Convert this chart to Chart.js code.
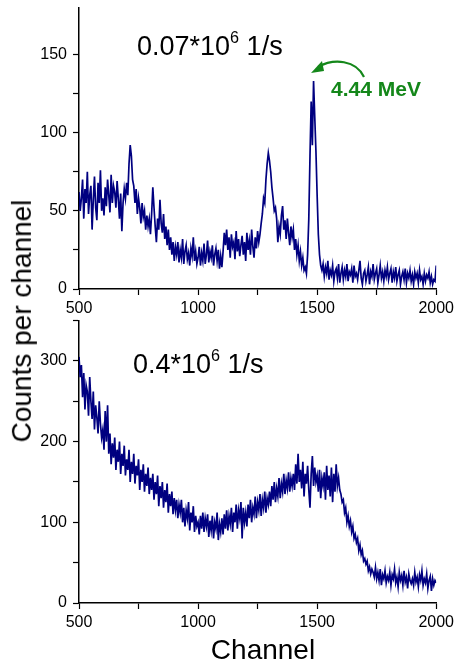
<!DOCTYPE html>
<html>
<head>
<meta charset="utf-8">
<script src="https://cdn.jsdelivr.net/npm/chart.js@4"></script>
<style>
  body { margin: 0; background: #fff; }
  #wrap { position: relative; width: 454px; height: 665px; overflow: hidden; font-family: "Liberation Sans", Arial, sans-serif; }
  canvas { position: absolute; left: 0; }
  .lbl { position: absolute; white-space: nowrap; color: #000; line-height: 1.15; }
  sup { font-size: 60%; vertical-align: 0; position: relative; top: -0.75em; }
</style>
</head>
<body>
<div id="wrap">
  <canvas id="topChart" width="458" height="330" style="top:-8px"></canvas>
  <canvas id="bottomChart" width="458" height="362" style="top:305px"></canvas>
  <div class="lbl" style="left:137px;top:31px;font-size:27px">0.07*10<sup>6</sup> 1/s</div>
  <div class="lbl" style="left:133px;top:349px;font-size:27px">0.4*10<sup>6</sup> 1/s</div>
  <div class="lbl" style="left:331px;top:77px;font-size:21px;font-weight:bold;color:#14871a">4.44 MeV</div>
  <div class="lbl" style="left:22px;top:321px;font-size:28px;transform:translate(-50%,-50%) rotate(-90deg)">Counts per channel</div>
  <div class="lbl" style="left:263px;top:650px;font-size:28px;transform:translate(-50%,-50%)">Channel</div>
  <svg style="position:absolute;left:0;top:0" width="454" height="665">
    <path d="M364,77 C356,60 334,58 318,67" fill="none" stroke="#14871a" stroke-width="2.2"/>
    <path d="M311,73 L322,61 L324,71 Z" fill="#14871a"/>
  </svg>
</div>
<script>
// channels 500..2000, every 5th channel
const channels = [];
for (let c = 500; c <= 2000; c += 5) channels.push(c);

// 0.07*10^6 1/s
const countsLow = [
  62, 50, 58, 70, 45, 64, 55, 75, 48, 60, 66, 38, 57, 72, 52, 44, 68, 55, 76, 50,
  58, 47, 65, 53, 70, 60, 49, 73, 55, 66, 62, 52, 69, 58, 45, 61, 37, 55, 64, 58,
  68, 60, 80, 92, 85, 70, 66, 55, 64, 48, 58, 52, 42, 55, 46, 50, 38, 47, 40, 45,
  35, 48, 65, 52, 40, 30, 45, 38, 57, 42, 36, 48, 32, 40, 28, 38, 25, 33, 22, 30,
  18, 27, 22, 30, 17, 25, 20, 32, 16, 24, 28, 19, 23, 15, 26, 21, 33, 18, 24, 16,
  20, 27, 15, 23, 18, 29, 16, 22, 31, 17, 24, 20, 28, 15, 22, 26, 18, 25, 13, 21,
  14, 24, 36, 28, 38, 25, 33, 20, 35, 27, 30, 19, 37, 24, 32, 21, 28, 34, 22, 30,
  18, 36, 25, 31, 22, 38, 27, 20, 33, 26, 37, 30, 35, 42, 48, 58, 55, 70, 80, 87,
  82, 75, 65, 58, 50, 52, 45, 30, 40, 35, 47, 53, 38, 44, 32, 45, 36, 28, 40, 33,
  38, 25, 32, 22, 28, 18, 24, 15, 20, 12, 14, 10, 22, 45, 85, 120, 92, 133, 110, 88,
  60, 35, 22, 15, 12, 16, 8, 14, 10, 18, 6, 12, 9, 15, 5, 11, 13, 7, 16, 4,
  10, 14, 6, 12, 8, 16, 5, 11, 9, 13, 4, 15, 8, 10, 6, 12, 18, 7, 3, 10,
  12, 5, 9, 14, 3, 11, 8, 16, 6, 10, 13, 4, 9, 15, 7, 11, 5, 12, 8, 14,
  6, 10, 13, 4, 11, 7, 14, 5, 9, 12, 3, 8, 11, 6, 13, 4, 10, 7, 12, 5,
  9, 3, 11, 7, 10, 4, 12, 6, 8, 3, 10, 5, 9, 7, 11, 4, 8, 3, 6, 5,
  15
];

// 0.4*10^6 1/s
const countsHigh = [
  305, 280, 295, 255, 285, 240, 270, 262, 232, 280, 250, 228, 262, 215, 245, 230, 210, 250, 222, 205,
  215, 190, 238, 200, 245, 185, 210, 172, 198, 180, 205, 165, 190, 175, 200, 160, 185, 170, 195, 158,
  178, 165, 190, 150, 175, 160, 185, 148, 170, 158, 178, 140, 165, 150, 172, 138, 160, 145, 168, 135,
  155, 140, 160, 128, 150, 135, 158, 120, 145, 130, 150, 118, 140, 125, 148, 112, 135, 120, 138, 110,
  130, 115, 128, 105, 122, 112, 128, 100, 118, 95, 115, 105, 125, 90, 112, 100, 120, 88, 108, 95,
  100, 85, 108, 92, 112, 88, 105, 95, 110, 82, 102, 90, 108, 80, 100, 92, 112, 78, 98, 88,
  105, 85, 110, 92, 115, 90, 108, 98, 118, 88, 112, 100, 122, 92, 115, 105, 125, 80, 118, 100,
  112, 95, 122, 105, 128, 100, 118, 110, 132, 105, 125, 115, 135, 108, 128, 118, 138, 112, 130, 122,
  138, 120, 145, 128, 150, 125, 142, 132, 155, 130, 148, 138, 160, 135, 152, 142, 162, 138, 155, 145,
  160, 140, 172, 148, 185, 150, 165, 142, 175, 132, 160, 148, 170, 140, 118, 160, 182, 145, 168, 150,
  158, 138, 165, 130, 155, 145, 162, 128, 170, 140, 158, 132, 168, 125, 160, 138, 172, 145, 155, 140,
  135, 125, 128, 112, 118, 100, 108, 95, 102, 88, 95, 80, 85, 75, 80, 65, 72, 60, 65, 52,
  55, 48, 52, 40, 45, 36, 42, 38, 32, 44, 30, 38, 28, 42, 22, 35, 30, 40, 25, 33,
  28, 38, 22, 35, 30, 42, 25, 32, 20, 38, 28, 34, 22, 40, 26, 32, 18, 36, 28, 24,
  30, 22, 38, 26, 32, 20, 35, 28, 40, 22, 30, 25, 36, 18, 28, 33, 15, 30, 22, 28,
  25
];

const xTicks = [500, 1000, 1500, 2000];

function axisStyle() {
  return {
    border: { color: '#000', width: 1.5 },
    grid: { drawOnChartArea: false, drawTicks: true, tickLength: 6, tickColor: '#000', tickWidth: 1.2 },
  };
}

function makeChart(id, values, yMax, yLabelStep, pad) {
  const ctx = document.getElementById(id).getContext('2d');
  return new Chart(ctx, {
    type: 'line',
    data: {
      datasets: [{
        data: channels.map((c, i) => ({ x: c, y: values[i] })),
        borderColor: '#000080',
        borderWidth: 1.7,
        pointRadius: 0,
        tension: 0,
      }]
    },
    options: {
      responsive: false,
      animation: false,
      layout: { padding: pad },
      plugins: { legend: { display: false }, tooltip: { enabled: false } },
      scales: {
        x: {
          type: 'linear', min: 500, max: 2000,
          ...axisStyle(),
          ticks: {
            stepSize: 250, color: '#000', padding: 4,
            font: { family: 'Liberation Sans', size: 16 },
            maxRotation: 0,
            callback: v => xTicks.includes(v) ? v : '',
          },
          afterFit: s => { s.height = 33; },
        },
        y: {
          min: 0, max: yMax,
          ...axisStyle(),
          ticks: {
            stepSize: yLabelStep / 2, color: '#000', padding: 6,
            font: { family: 'Liberation Sans', size: 16 },
            callback: v => v % yLabelStep === 0 ? v : '',
          },
          afterBuildTicks: s => { s.ticks = s.ticks.filter(t => t.value % (yLabelStep / 2) === 0); },
          afterFit: s => { s.width = 79; },
        }
      }
    }
  });
}

makeChart('topChart', countsLow, 180, 50, { top: 0, right: 18, left: 0, bottom: 0 });
makeChart('bottomChart', countsHigh, 350, 100, { top: 0, right: 18, left: 0, bottom: 31 });
</script>
</body>
</html>
